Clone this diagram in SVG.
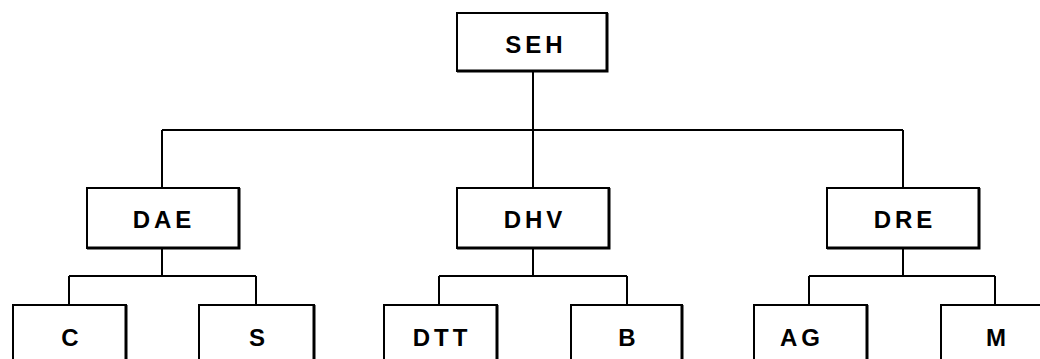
<svg xmlns="http://www.w3.org/2000/svg" width="1040" height="359" viewBox="0 0 1040 359">
  <style>
    .box { fill: #ffffff; stroke: #000000; stroke-width: 2; }
    .edge { fill: none; stroke: #000000; stroke-width: 3; }
    .wire { fill: none; stroke: #000000; stroke-width: 2; }
    .label { font-family: "Liberation Sans", Arial, sans-serif; font-size: 24px; font-weight: bold; fill: #000000; text-anchor: middle; letter-spacing: 4px; }
  </style>
  <rect width="1040" height="359" fill="#ffffff"/>

  <g id="connectors">
    <!-- top level -->
    <path class="wire" d="M533 71 V188 M162 130 H903 M162 130 V188 M903 130 V188"/>
    <!-- DAE branch -->
    <path class="wire" d="M162 248 V276 M69 276 H256 M69 276 V305 M256 276 V305"/>
    <!-- DHV branch -->
    <path class="wire" d="M533 248 V276 M439 276 H627 M439 276 V305 M627 276 V305"/>
    <!-- DRE branch -->
    <path class="wire" d="M903 248 V276 M809 276 H995 M809 276 V305 M995 276 V305"/>
  </g>

  <g id="SEH">
    <rect class="box" x="457" y="13" width="150" height="58"/>
    <path class="edge" d="M607 13 V71 H457"/>
    <text class="label" x="536" y="53">SEH</text>
  </g>

  <g id="DAE">
    <rect class="box" x="87" y="188" width="152" height="60"/>
    <path class="edge" d="M239 188 V248 H87"/>
    <text class="label" x="164" y="228">DAE</text>
  </g>
  <g id="DHV">
    <rect class="box" x="457" y="188" width="152" height="60"/>
    <path class="edge" d="M609 188 V248 H457"/>
    <text class="label" x="535" y="228">DHV</text>
  </g>
  <g id="DRE">
    <rect class="box" x="827" y="188" width="152" height="60"/>
    <path class="edge" d="M979 188 V248 H827"/>
    <text class="label" x="905" y="228">DRE</text>
  </g>

  <g id="C">
    <rect class="box" x="13" y="305" width="113" height="80"/>
    <path class="edge" d="M126 305 V385"/>
    <text class="label" x="72" y="346">C</text>
  </g>
  <g id="S">
    <rect class="box" x="199" y="305" width="115" height="80"/>
    <path class="edge" d="M314 305 V385"/>
    <text class="label" x="259" y="346">S</text>
  </g>
  <g id="DTT">
    <rect class="box" x="384" y="305" width="113" height="80"/>
    <path class="edge" d="M497 305 V385"/>
    <text class="label" x="442" y="346">DTT</text>
  </g>
  <g id="B">
    <rect class="box" x="571" y="305" width="111" height="80"/>
    <path class="edge" d="M682 305 V385"/>
    <text class="label" x="629" y="346">B</text>
  </g>
  <g id="AG">
    <rect class="box" x="754" y="305" width="113" height="80"/>
    <path class="edge" d="M867 305 V385"/>
    <text class="label" x="802" y="346">AG</text>
  </g>
  <g id="M">
    <rect class="box" x="941" y="305" width="113" height="80"/>
    <text class="label" x="998" y="346">M</text>
  </g>
</svg>
